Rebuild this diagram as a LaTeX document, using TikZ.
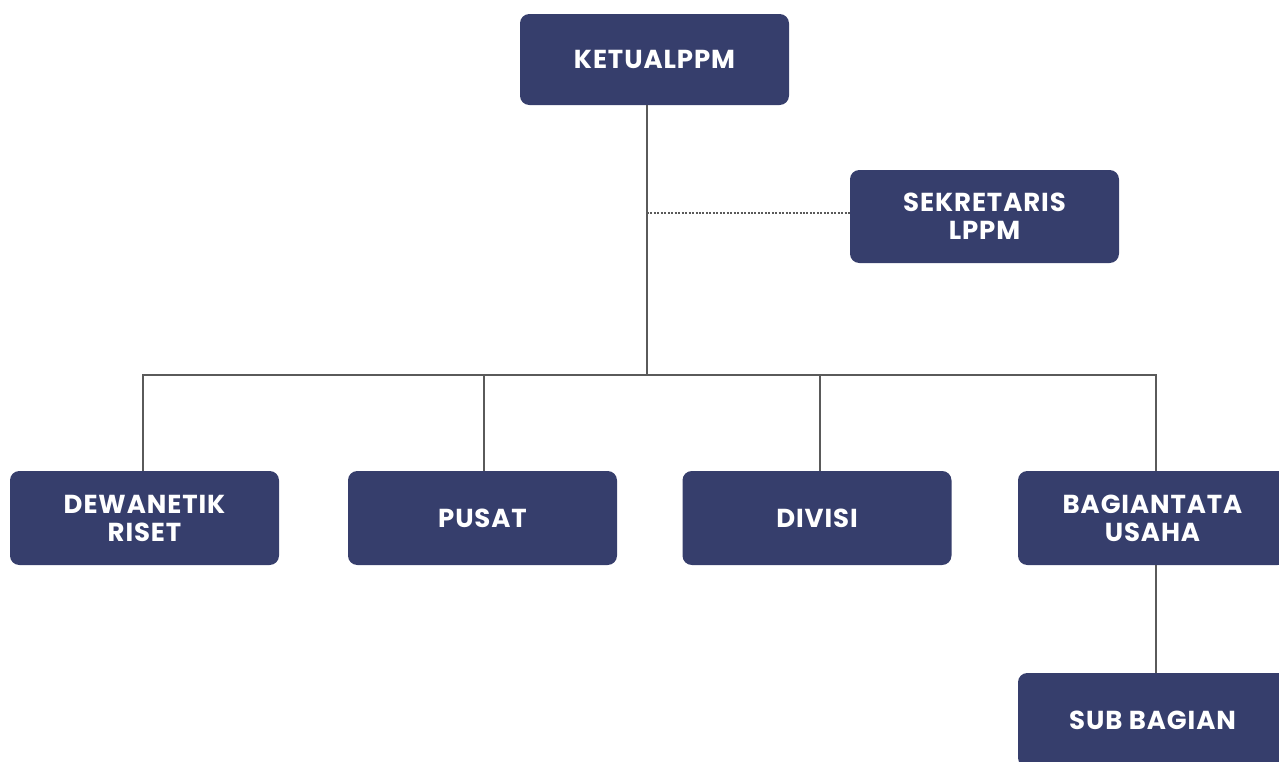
\documentclass[tikz,border=0pt]{standalone}
\usepackage{fontspec}
\setmainfont{Poppins}[LetterSpace=3.5]
\definecolor{navy}{HTML}{363E6C}
\definecolor{linegray}{HTML}{5A5A5A}
\begin{document}
\begin{tikzpicture}[x=0.75pt,y=-0.75pt,
  box/.style={fill=navy,draw=none,rounded corners=7pt,text=white,
    font=\bfseries\fontsize{19.5}{21}\selectfont,align=center,
    minimum width=201.75pt,minimum height=70.5pt,inner sep=0pt},
  conn/.style={draw=linegray,line width=1.1pt},
  dotconn/.style={draw=linegray,line width=1.6pt,dash pattern=on 1.5pt off 1.1pt}]
\useasboundingbox (0,0) rectangle (1279,761);
\clip (0,0) rectangle (1279,761);
\node[box,minimum height=68.25pt] (ketua) at (654.5,59.5) {KETUALPPM};
\node[box,minimum height=69.75pt] (sek) at (984.5,216.5) {SEKRETARIS\\LPPM};
\node[box] (dewan) at (144.5,518) {DEWANETIK\\RISET};
\node[box] (pusat) at (482.5,518) {PUSAT};
\node[box] (divisi) at (817,518) {DIVISI};
\node[box] (bagian) at (1152.5,518) {BAGIANTATA\\USAHA};
\node[box] (sub) at (1152.5,720) {SUB BAGIAN};
\coordinate (trunk) at (647,375);
\coordinate (sekjoin) at (647,213);
\draw[conn] (ketua.south -| trunk) -- (trunk);
\draw[dotconn] (sekjoin) -- (sek.west |- sekjoin);
\draw[conn] (dewan.north) ++(-1.5,0) coordinate (d1) (d1) -- (d1 |- trunk);
\draw[conn] (pusat.north) ++(1.5,0) coordinate (p1) (p1) -- (p1 |- trunk);
\draw[conn] (divisi.north) ++(3,0) coordinate (v1) (v1) -- (v1 |- trunk);
\draw[conn] (bagian.north) ++(3.5,0) coordinate (b1) (b1) -- (b1 |- trunk);
\draw[conn,line cap=rect] (d1 |- trunk) -- (b1 |- trunk);
\draw[conn] (bagian.south) ++(3.5,0) coordinate (b2) (b2) -- (b2 |- sub.north);
\end{tikzpicture}
\end{document}
